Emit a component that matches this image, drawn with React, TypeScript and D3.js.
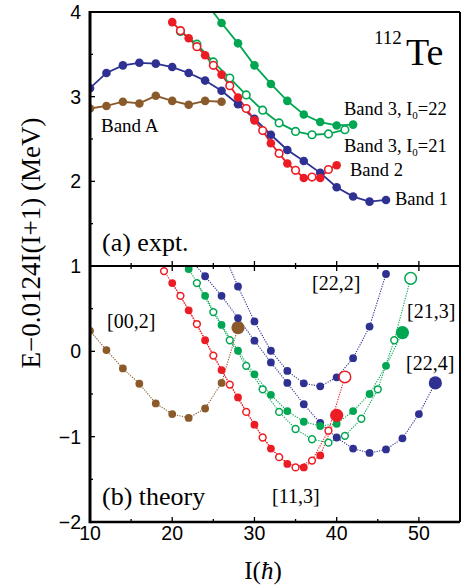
import React from "react";
import * as d3 from "d3";

// ---------- data (panel a: experiment) ----------
const bandA_I = [10, 12, 14, 16, 18, 20, 22, 24, 26];
const bandA_E = [2.86, 2.89, 2.94, 2.92, 3.01, 2.95, 2.905, 2.95, 2.94];

const band1_I = [10, 12, 14, 16, 18, 20, 22, 24, 26, 28, 30, 32, 34, 36, 38, 40, 42, 44, 46];
const band1_E = [3.1, 3.28, 3.37, 3.4, 3.39, 3.35, 3.28, 3.19, 3.07, 2.91, 2.74, 2.55, 2.37, 2.24, 2.1, 1.93, 1.82, 1.76, 1.78];

const band2_I = [20, 21, 22, 23, 24, 25, 26, 27, 28, 29, 30, 31, 32, 33, 34, 35, 36, 37, 38, 39, 40];
const band2_E = [3.88, 3.78, 3.69, 3.59, 3.49, 3.37, 3.26, 3.13, 2.99, 2.86, 2.72, 2.6, 2.45, 2.33, 2.21, 2.13, 2.04, 2.05, 2.04, 2.14, 2.19];

const band3a_I = [21, 23, 25, 27, 29, 31, 33, 35, 37, 39, 41]; // I0=21 (open)
const band3a_E = [3.77, 3.62, 3.41, 3.22, 3.02, 2.84, 2.69, 2.59, 2.55, 2.56, 2.61];

const band3b_I = [24, 26, 28, 30, 32, 34, 36, 38, 40, 42]; // I0=22 (filled)
const band3b_E = [4.12, 3.87, 3.63, 3.37, 3.15, 2.95, 2.79, 2.7, 2.66, 2.67];

// ---------- data (panel b: theory) ----------
const th002_I = [10, 12, 14, 16, 18, 20, 22, 24, 26, 28];
const th002_E = [0.24, 0.015, -0.2, -0.38, -0.61, -0.735, -0.78, -0.67, -0.37, 0.277];

const th113f_I = [20, 22, 24, 26, 28, 30, 32, 34, 36, 38, 40];
const th113f_E = [0.8, 0.48, 0.13, -0.22, -0.54, -0.86, -1.14, -1.32, -1.36, -1.22, -0.75];
const th113o_I = [19, 21, 23, 25, 27, 29, 31, 33, 35, 37, 39, 41];
const th113o_E = [0.94, 0.65, 0.32, -0.05, -0.39, -0.71, -1.01, -1.24, -1.36, -1.28, -0.93, -0.3];

const th213f_I = [22, 24, 26, 28, 30, 32, 34, 36, 38, 40, 42, 44, 46, 48];
const th213f_E = [0.965, 0.65, 0.31, 0.007, -0.27, -0.51, -0.7, -0.825, -0.875, -0.85, -0.7, -0.5, -0.17, 0.22];
const th213o_I = [23, 25, 27, 29, 31, 33, 35, 37, 39, 41, 43, 45, 47, 49];
const th213o_E = [0.8, 0.46, 0.13, -0.17, -0.445, -0.71, -0.91, -1.03, -1.07, -0.99, -0.79, -0.445, 0.13, 0.855];

const th222_I = [26, 28, 30, 32, 34, 36, 38, 40, 42, 44, 46];
const th222_E = [1.2, 0.76, 0.35, 0.007, -0.23, -0.375, -0.41, -0.305, -0.08, 0.29, 0.906];

const th224_I = [22, 24, 26, 28, 30, 32, 34, 36, 38, 40, 42, 44, 46, 48, 50, 52];
const th224_E = [1.1, 0.88, 0.65, 0.39, 0.125, -0.13, -0.37, -0.62, -0.84, -1.01, -1.14, -1.19, -1.15, -1.02, -0.735, -0.37];

const xTicks = [10, 20, 30, 40, 50];
const yTicksTop = [2, 3, 4];
const yTicksBot = [-2, -1, 0, 1];

const BLUE = "#2e3192";
const RED = "#ec1c24";
const GREEN = "#00a651";
const BROWN = "#8b5a2b";

const W = 461;
const H = 588;
const L = 90, R = 460, T = 12, MID = 266, B = 522;

export default function App() {
  const x = d3.scaleLinear().domain([10, 55]).range([L, R]);
  const yTop = d3.scaleLinear().domain([1, 4]).range([MID, T]);
  const yBot = d3.scaleLinear().domain([-2, 1]).range([B, MID]);

  const pts = (I: number[], E: number[]) => I.map((v, i) => [v, E[i]] as [number, number]);

  const line = (y: d3.ScaleLinear<number, number>) =>
    d3.line<[number, number]>().x((d) => x(d[0])).y((d) => y(d[1]));

  const lineTop = line(yTop);
  const lineBot = line(yBot);

  const serif = "'Liberation Serif', 'Times New Roman', serif";
  const sans = "'Liberation Sans', Arial, sans-serif";

  const expSeries = [
    { I: bandA_I, E: bandA_E, c: BROWN, open: () => false },
    { I: band1_I, E: band1_E, c: BLUE, open: () => false },
    { I: band3b_I, E: band3b_E, c: GREEN, open: () => false },
    { I: band3a_I, E: band3a_E, c: GREEN, open: () => true },
    { I: band2_I, E: band2_E, c: RED, open: (I: number) => I % 2 === 1 },
  ];

  const thSeries = [
    { I: th002_I, E: th002_E, c: BROWN, open: false, big: true },
    { I: th222_I, E: th222_E, c: BLUE, open: false, big: false },
    { I: th224_I, E: th224_E, c: BLUE, open: false, big: true },
    { I: th213f_I, E: th213f_E, c: GREEN, open: false, big: true },
    { I: th213o_I, E: th213o_E, c: GREEN, open: true, big: true },
    { I: th113f_I, E: th113f_E, c: RED, open: false, big: true },
    { I: th113o_I, E: th113o_E, c: RED, open: true, big: true },
  ];

  const minorX = d3.range(15, 55, 10);

  return (
    <svg width={W} height={H} style={{ position: "absolute", left: 0, top: 0, background: "#fff" }}>
      <defs>
        <clipPath id="clipTop">
          <rect x={L} y={T} width={R - L} height={MID - T} />
        </clipPath>
        <clipPath id="clipBot">
          <rect x={L} y={MID} width={R - L} height={B - MID} />
        </clipPath>
      </defs>

      {/* top panel data */}
      <g clipPath="url(#clipTop)">
        {expSeries.map((s, k) => (
          <path key={"l" + k} d={lineTop(pts(s.I, s.E)) || ""} fill="none" stroke={s.c} strokeWidth={1.8} />
        ))}
        {expSeries.map((s, k) =>
          s.I.map((I, i) => {
            const o = s.open(I);
            return (
              <circle
                key={"p" + k + "_" + i}
                cx={x(I)}
                cy={yTop(s.E[i])}
                r={o ? 3.8 : 4.3}
                fill={o ? "#fff" : s.c}
                stroke={s.c}
                strokeWidth={o ? 1.6 : 0}
              />
            );
          })
        )}
      </g>

      {/* bottom panel data */}
      <g clipPath="url(#clipBot)">
        {thSeries.map((s, k) => (
          <path
            key={"tl" + k}
            d={lineBot(pts(s.I, s.E)) || ""}
            fill="none"
            stroke={s.c}
            strokeWidth={1.1}
            strokeDasharray="1.2 1.3"
          />
        ))}
        {thSeries.map((s, k) =>
          s.I.map((I, i) => {
            const big = s.big && i === s.I.length - 1;
            const r = big ? (s.open ? 5.8 : 6.6) : s.open ? 3.4 : 3.9;
            return (
              <circle
                key={"tp" + k + "_" + i}
                cx={x(I)}
                cy={yBot(s.E[i])}
                r={r}
                fill={s.open ? "#fff" : s.c}
                stroke={s.c}
                strokeWidth={s.open ? 1.5 : 0}
              />
            );
          })
        )}
      </g>

      {/* frame */}
      <g fill="none" stroke="#000">
        <line x1={L} y1={T} x2={R} y2={T} strokeWidth={2} />
        <line x1={R} y1={T} x2={R} y2={B} strokeWidth={2} />
        <line x1={L} y1={MID} x2={R} y2={MID} strokeWidth={2} />
        <line x1={L} y1={B} x2={R} y2={B} strokeWidth={2.6} />
        <line x1={L} y1={T - 1} x2={L} y2={B + 1.3} strokeWidth={3} />
      </g>

      {/* x ticks */}
      <g stroke="#000" strokeWidth={1.3}>
        {xTicks.map((t) => (
          <g key={"xt" + t}>
            <line x1={x(t)} x2={x(t)} y1={MID} y2={MID - 5} />
            <line x1={x(t)} x2={x(t)} y1={MID} y2={MID + 5} />
            <line x1={x(t)} x2={x(t)} y1={B} y2={B - 5} />
          </g>
        ))}
        {minorX.map((t) => (
          <g key={"xm" + t}>
            <line x1={x(t)} x2={x(t)} y1={MID} y2={MID - 3} />
            <line x1={x(t)} x2={x(t)} y1={MID} y2={MID + 3} />
            <line x1={x(t)} x2={x(t)} y1={B} y2={B - 3} />
          </g>
        ))}
        {yTicksTop.map((t) => (
          <line key={"yt" + t} x1={L} x2={L + 5} y1={yTop(t)} y2={yTop(t)} />
        ))}
        {[1.5, 2.5, 3.5].map((t) => (
          <line key={"ytm" + t} x1={L} x2={L + 3} y1={yTop(t)} y2={yTop(t)} />
        ))}
        {yTicksBot.map((t) => (
          <line key={"yb" + t} x1={L} x2={L + 5} y1={yBot(t)} y2={yBot(t)} />
        ))}
        {[-1.5, -0.5, 0.5].map((t) => (
          <line key={"ybm" + t} x1={L} x2={L + 3} y1={yBot(t)} y2={yBot(t)} />
        ))}
      </g>

      {/* tick labels */}
      <g fontFamily={sans} fontSize={19.5} fill="#000">
        {xTicks.map((t) => (
          <text key={"xl" + t} x={x(t)} y={B + 18} textAnchor="middle">
            {t}
          </text>
        ))}
        {yTicksTop.map((t) => (
          <text key={"yl" + t} x={L - 9} y={yTop(t) + 7} textAnchor="end">
            {t}
          </text>
        ))}
        {yTicksBot.map((t) => (
          <text key={"ybl" + t} x={L - 9} y={yBot(t) + 7} textAnchor="end">
            {t < 0 ? "\u2212" + Math.abs(t) : t}
          </text>
        ))}
      </g>

      {/* axis titles */}
      <text x={263} y={579} fontFamily={serif} fontSize={25} textAnchor="middle">
        I(<tspan fontStyle="italic">ħ</tspan>)
      </text>
      <text
        transform="translate(40,243) rotate(-90)"
        fontFamily={serif}
        fontSize={27}
        textAnchor="middle"
      >
        E−0.0124I(I+1) (MeV)
      </text>

      {/* annotations */}
      <g fontFamily={serif} fill="#000">
        <text x={374} y={44} fontSize={19}>112</text>
        <text x={406} y={65} fontSize={38}>Te</text>
        <text x={101} y={132} fontSize={19}>Band A</text>
        <text x={344} y={115} fontSize={18.5}>
          Band 3, I<tspan fontSize={11} dy={4}>0</tspan><tspan dy={-4}>=22</tspan>
        </text>
        <text x={344} y={152} fontSize={18.5}>
          Band 3, I<tspan fontSize={11} dy={4}>0</tspan><tspan dy={-4}>=21</tspan>
        </text>
        <text x={350} y={176} fontSize={18.5}>Band 2</text>
        <text x={395} y={205} fontSize={18.5}>Band 1</text>
        <text x={102} y={251} fontSize={26}>(a) expt.</text>

        <text x={107} y={328} fontSize={20}>[00,2]</text>
        <text x={312} y={290} fontSize={20}>[22,2]</text>
        <text x={407} y={318} fontSize={20}>[21,3]</text>
        <text x={406} y={370} fontSize={20}>[22,4]</text>
        <text x={272} y={503} fontSize={20}>[11,3]</text>
        <text x={102} y={505} fontSize={26}>(b) theory</text>
      </g>
    </svg>
  );
}
